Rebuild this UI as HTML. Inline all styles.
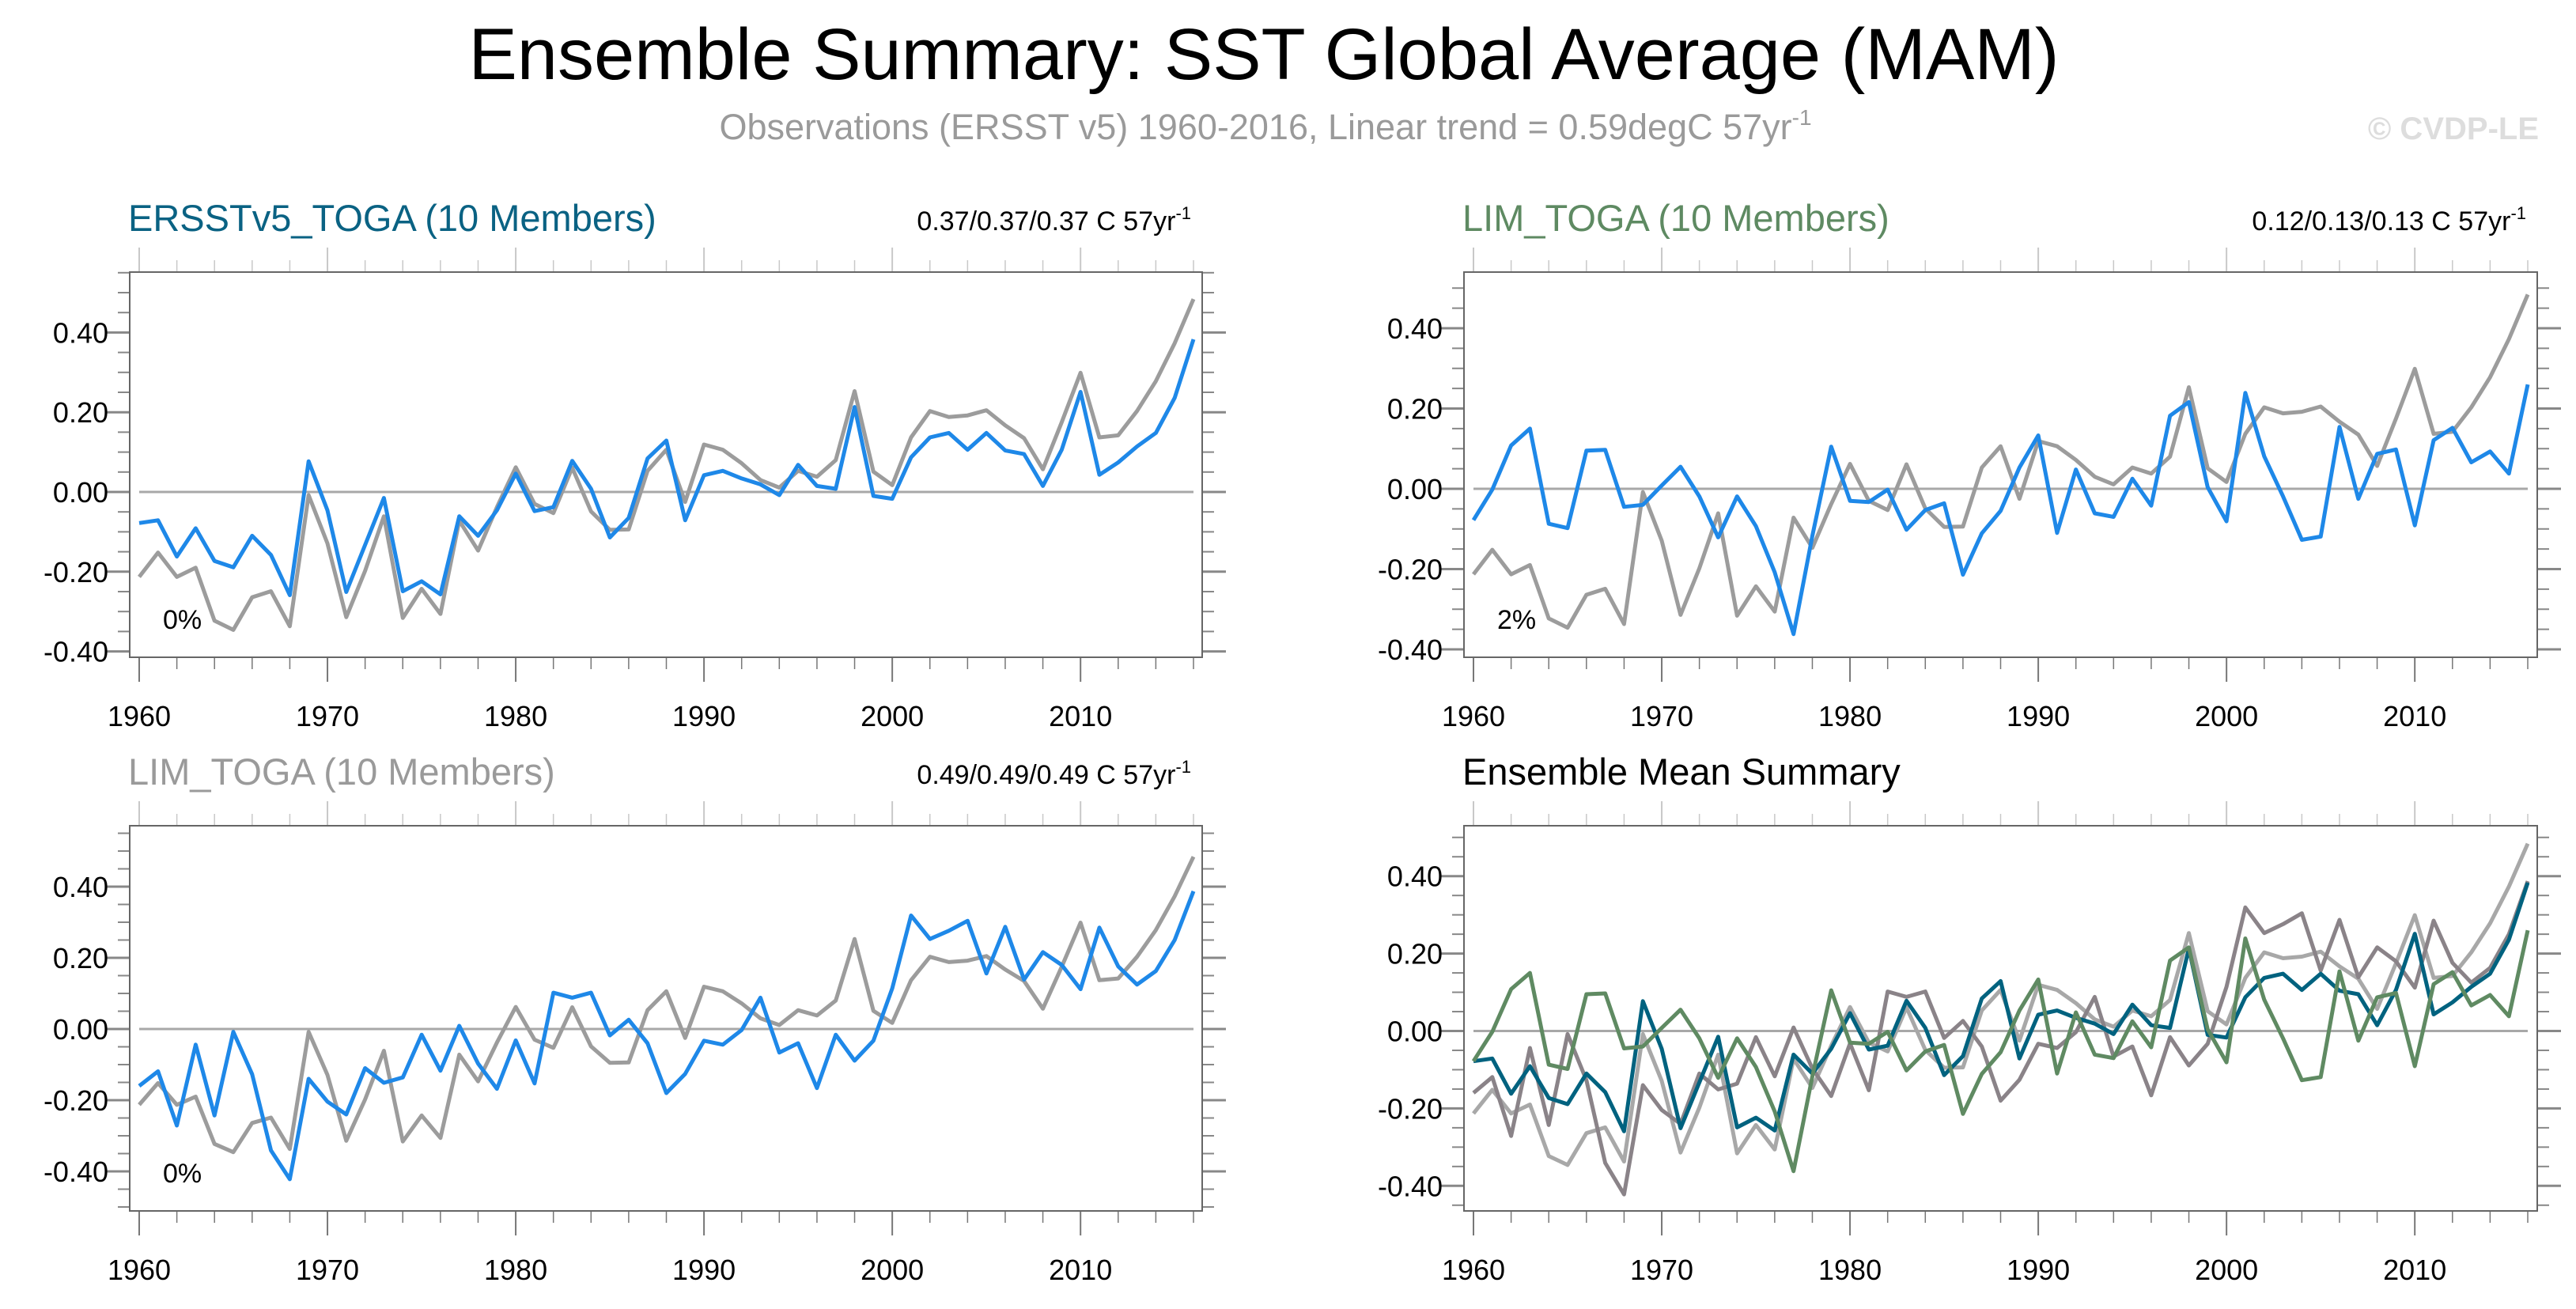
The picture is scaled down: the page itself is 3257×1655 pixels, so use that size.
<!DOCTYPE html>
<html><head><meta charset="utf-8"><style>
html,body{margin:0;padding:0;background:#fff;}
svg text{font-family:"Liberation Sans",sans-serif;}
</style></head><body>
<svg id="chart" xmlns="http://www.w3.org/2000/svg" width="3257" height="1650" viewBox="0 0 3257 1650">
<rect width="3257" height="1650" fill="#fff"/>
<text x="1598" y="100" font-size="92" text-anchor="middle" fill="#000">Ensemble Summary: SST Global Average (MAM)</text>
<text x="1600" y="176" font-size="45" text-anchor="middle" fill="#9a9a9a">Observations (ERSST v5) 1960-2016, Linear trend = 0.59degC 57yr<tspan dy="-18" font-size="28">-1</tspan></text>
<text x="3210" y="176" font-size="40" font-weight="bold" text-anchor="end" fill="#dddddd">© CVDP-LE</text>
<g id="panels"></g>
</svg>
<script>
const years = [];
for (let y = 1960; y <= 2016; y++) years.push(y);
const obs = [-0.213,-0.152,-0.213,-0.19,-0.323,-0.346,-0.264,-0.249,-0.337,-0.008,-0.129,-0.314,-0.198,-0.061,-0.316,-0.243,-0.306,-0.072,-0.147,-0.038,0.062,-0.03,-0.053,0.061,-0.049,-0.095,-0.094,0.053,0.106,-0.025,0.119,0.106,0.072,0.03,0.011,0.053,0.038,0.08,0.253,0.051,0.017,0.137,0.203,0.188,0.192,0.205,0.167,0.135,0.057,0.175,0.299,0.137,0.142,0.203,0.278,0.373,0.484];
const ersstToga = [-0.078,-0.071,-0.162,-0.091,-0.173,-0.189,-0.11,-0.158,-0.259,0.077,-0.046,-0.251,-0.133,-0.015,-0.249,-0.224,-0.257,-0.061,-0.11,-0.046,0.046,-0.048,-0.038,0.078,0.008,-0.114,-0.065,0.084,0.129,-0.071,0.042,0.053,0.034,0.019,-0.008,0.068,0.015,0.008,0.213,-0.01,-0.017,0.087,0.137,0.148,0.106,0.148,0.104,0.095,0.015,0.106,0.251,0.043,0.074,0.114,0.148,0.236,0.383];
const limToga = [-0.078,-0.002,0.108,0.15,-0.087,-0.098,0.095,0.097,-0.045,-0.04,0.008,0.055,-0.019,-0.121,-0.019,-0.093,-0.208,-0.362,-0.117,0.105,-0.03,-0.033,-0.002,-0.102,-0.053,-0.036,-0.214,-0.111,-0.055,0.053,0.133,-0.11,0.048,-0.061,-0.07,0.025,-0.042,0.182,0.216,0.004,-0.081,0.239,0.081,-0.019,-0.127,-0.119,0.154,-0.025,0.087,0.098,-0.091,0.121,0.152,0.066,0.093,0.038,0.26];
const limToga2 = [-0.16,-0.119,-0.271,-0.044,-0.243,-0.008,-0.127,-0.341,-0.422,-0.14,-0.204,-0.24,-0.11,-0.151,-0.136,-0.016,-0.117,0.009,-0.097,-0.168,-0.032,-0.153,0.102,0.088,0.102,-0.018,0.026,-0.04,-0.18,-0.126,-0.033,-0.044,-0.003,0.088,-0.066,-0.04,-0.166,-0.016,-0.089,-0.033,0.114,0.319,0.253,0.276,0.304,0.156,0.287,0.139,0.216,0.18,0.112,0.285,0.176,0.125,0.163,0.25,0.387];
const yTickValues = [0.4,0.2,0,-0.2,-0.4];
const yTickLabels = ["0.40","0.20","0.00","-0.20","-0.40"];
const xTickYears = [1960,1970,1980,1990,2000,2010];

const NS = "http://www.w3.org/2000/svg";
const root = document.getElementById('panels');
function el(tag, attrs, parent, text) {
  const e = document.createElementNS(NS, tag);
  for (const k in attrs) e.setAttribute(k, attrs[k]);
  if (text !== undefined) e.textContent = text;
  (parent || root).appendChild(e);
  return e;
}
const panels = [
  {key:'ersst', fx0:164, fx1:1520, fy0:344, fy1:831, x60:176, x16:1509, y0:622, per02:100.8,
   title:'ERSSTv5_TOGA (10 Members)', tcol:'#0a6283', trend:'0.37/0.37/0.37 C 57yr', pct:'0%',
   series:[{d:obs,c:'#9c9c9c',n:'observations-line'},{d:ersstToga,c:'#1e88e8',n:'ersst-toga-line'}]},
  {key:'lim', fx0:1851, fx1:3208, fy0:344, fy1:831, x60:1863, x16:3196, y0:618, per02:101.5,
   title:'LIM_TOGA (10 Members)', tcol:'#5e8a62', trend:'0.12/0.13/0.13 C 57yr', pct:'2%',
   series:[{d:obs,c:'#9c9c9c',n:'observations-line'},{d:limToga,c:'#1e88e8',n:'lim-toga-line'}]},
  {key:'lim2', fx0:164, fx1:1520, fy0:1044, fy1:1531, x60:176, x16:1509, y0:1301, per02:90,
   title:'LIM_TOGA (10 Members)', tcol:'#9a9a9a', trend:'0.49/0.49/0.49 C 57yr', pct:'0%',
   series:[{d:obs,c:'#9c9c9c',n:'observations-line'},{d:limToga2,c:'#1e88e8',n:'lim-toga-2-line'}]},
  {key:'mean', fx0:1851, fx1:3208, fy0:1044, fy1:1531, x60:1863, x16:3196, y0:1303.5, per02:97.9,
   title:'Ensemble Mean Summary', tcol:'#000', trend:null, pct:null,
   series:[{d:obs,c:'#a8a8a8',n:'observations-line'},{d:limToga2,c:'#8a8388',n:'lim-toga-2-mean-line'},
           {d:ersstToga,c:'#00627f',n:'ersst-toga-mean-line'},{d:limToga,c:'#5f8a62',n:'lim-toga-mean-line'}]}
];
panels.forEach(p => {
  const g = el('g', {});
  
  
  const xs = yr => p.x60 + (yr - 1960) * (p.x16 - p.x60) / 56;
  const ys = v => p.y0 - v * p.per02 / 0.2;
  const vTop = (p.y0 - p.fy0) / (p.per02 / 0.2), vBot = (p.y0 - p.fy1) / (p.per02 / 0.2);
  for (let k = Math.ceil(vBot / 0.05 - 1e-6); k * 0.05 <= vTop + 1e-6; k++) {
    const v = k * 0.05, y = ys(v);
    const major = Math.abs(v * 5 - Math.round(v * 5)) < 1e-6;
    const L = major ? 30 : 15;
    el('line', {x1:p.fx0 - L, x2:p.fx0, y1:y, y2:y, stroke:'#888', 'stroke-width':major?3:2}, g);
    el('line', {x1:p.fx1, x2:p.fx1 + L, y1:y, y2:y, stroke:'#888', 'stroke-width':major?3:2}, g);
  }
  for (let yr = 1960; yr <= 2016; yr += 2) {
    const x = xs(yr), major = yr % 10 === 0, L = major ? 31 : 15;
    el('line', {x1:x, x2:x, y1:p.fy1, y2:p.fy1 + L, stroke:'#777', 'stroke-width':major?2:1.5}, g);
    el('line', {x1:x, x2:x, y1:p.fy0 - L, y2:p.fy0, stroke:'#c8c8c8', 'stroke-width':major?2:1.5}, g);
  }
  const fr = el('rect', {x:p.fx0, y:p.fy0, width:p.fx1 - p.fx0, height:p.fy1 - p.fy0, fill:'none', stroke:'#666', 'stroke-width':2}, g);
  
  
  yTickValues.forEach((v, i) => {
    const t = el('text', {x:p.fx0 - 27, y:ys(v) + 13, 'font-size':36, 'text-anchor':'end', fill:'#000'}, g, yTickLabels[i]);
    
    
  });
  xTickYears.forEach(yr => {
    const t = el('text', {x:xs(yr), y:p.fy1 + 87, 'font-size':36, 'text-anchor':'middle', fill:'#000'}, g, String(yr));
    
    
  });
  const zl = el('line', {x1:xs(1960), x2:xs(2016), y1:ys(0), y2:ys(0), stroke:'#a8a8a8', 'stroke-width':3}, g);
  
  
  p.series.forEach(s => {
    const pts = s.d.map((v, i) => xs(years[i]).toFixed(1) + ',' + ys(v).toFixed(1)).join(' ');
    const pl = el('polyline', {points:pts, fill:'none', stroke:s.c, 'stroke-width':5, 'stroke-linejoin':'round'}, g);
    
    
  });
  const tt = el('text', {x:p.fx0 - 2, y:p.fy0 - 52, 'font-size':47, fill:p.tcol}, g, p.title);
  
  
  if (p.trend) {
    const tr = el('text', {x:p.fx1 - 14, y:p.fy0 - 53, 'font-size':34, 'text-anchor':'end', fill:'#000'}, g, p.trend);
    
    
    el('tspan', {dy:-14, 'font-size':22}, tr, '-1');
  }
  if (p.pct) {
    const pc = el('text', {x:p.fx0 + 42, y:p.fy1 - 36, 'font-size':34, fill:'#000'}, g, p.pct);
    
    
  }
});
</script>
</body></html>
